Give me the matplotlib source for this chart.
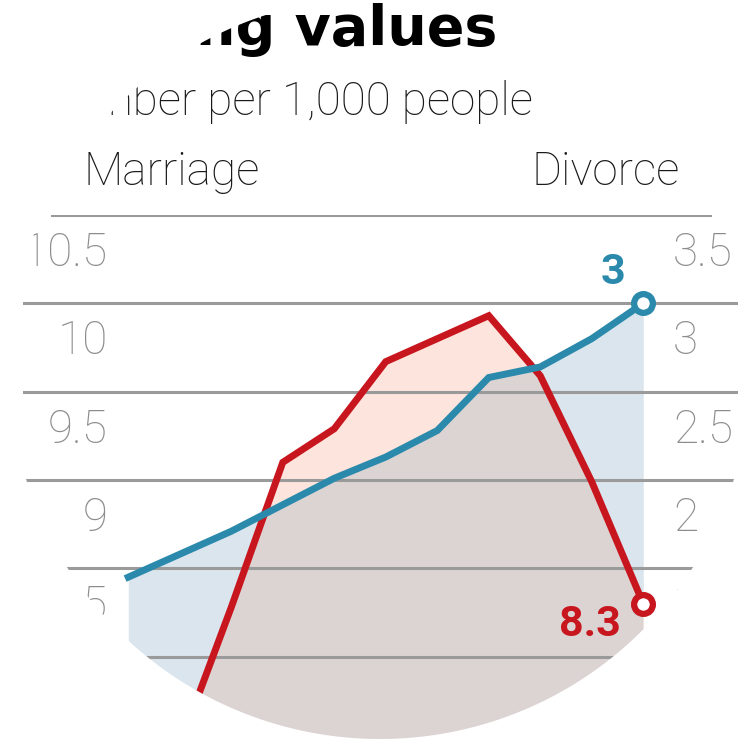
"""
Marriage vs divorce rate, per 1,000 people (circular crop)
"""

import numpy as np
import matplotlib.pyplot as plt
from matplotlib.path import Path
from matplotlib.patches import PathPatch

# data
years = [2006, 2007, 2008, 2009, 2010, 2011, 2012, 2013, 2014, 2015, 2016]
marriage = [7.2, 7.5, 8.28, 9.1, 9.29, 9.67, 9.8, 9.93, 9.59, 8.99, 8.3]
divorce = [1.45, 1.58, 1.71, 1.86, 2.01, 2.13, 2.28, 2.58, 2.64, 2.8, 3.0]

marriage_ticks = [10.5, 10, 9.5, 9, 8.5, 8]
divorce_ticks = [3.5, 3, 2.5, 2, 1.5, 1]
marriage_labels = ["10.5", "10", "9.5", "9", "8.5", "8"]
divorce_labels = ["3.5", "3", "2.5", "2", "1.5", "1"]

RED = "#c8161e"
BLUE = "#2b8aab"
BLUE_FILL = "#dae5ee"
RED_FILL = "#fde4dc"
OVERLAP = "#dcd3d3"
GRID = "#9a9a9a"
TICK = "#8c8c8c"
DARK = "#1a1a1a"

THIN = ["Roboto", "DejaVu Sans"]


def main():
    fig = plt.figure(figsize=(7.56, 7.44), dpi=100)
    ax = fig.add_axes([23 / 756, -1 / 744, 715 / 756, 530 / 744])
    ax2 = ax.twinx()
    ax.set_xlim(years[0] - 2.045, years[0] + 11.84)
    ax.set_ylim(7.5, 10.5)
    ax2.set_ylim(0.5, 3.5)
    ax.set_axis_off()
    ax2.set_axis_off()

    # fills (divorce drawn on ax with ax2 scale so lines stay on top)
    ax.fill_between(years, 0.0, divorce, transform=ax2.transData,
                    color=BLUE_FILL, lw=0, zorder=1)
    red_fill = ax.fill_between(years, 7.0, marriage, color=RED_FILL,
                               lw=0, zorder=1.1)
    ov = ax.fill_between(years, 0.0, divorce, transform=ax2.transData,
                         color=OVERLAP, lw=0, zorder=1.2)
    ov.set_clip_path(red_fill.get_paths()[0], ax.transData)

    # grid
    for v in marriage_ticks[1:]:
        ax.axhline(v, color=GRID, lw=2.2, zorder=2)
    ax.axhline(10.5, xmin=29 / 715, xmax=687 / 715, color=GRID, lw=2.2, zorder=2)

    # tick labels sit under their grid line
    for v, s in zip(marriage_ticks, marriage_labels):
        ax.text(0.119, v - 0.215, s, transform=ax.get_yaxis_transform(),
                ha="right", va="center", fontsize=33, color=TICK,
                family=THIN, fontweight="light")
    for v, s in zip(divorce_ticks, divorce_labels):
        ax.text(0.909, v - 0.215, s, transform=ax2.get_yaxis_transform(),
                ha="left", va="center", fontsize=33, color=TICK,
                family=THIN, fontweight="light")

    # lines
    ax.plot(years, marriage, color=RED, lw=5, zorder=3,
            solid_joinstyle="miter")
    ax.plot(years, divorce, color=BLUE, lw=5, zorder=3,
            transform=ax2.transData, solid_joinstyle="miter")
    ax.plot(years[-1], marriage[-1], "o", ms=13.5, mew=4.5, mfc="white",
            mec=RED, zorder=4)
    ax.plot(years[-1], divorce[-1], "o", ms=13.5, mew=4.5, mfc="white",
            mec=BLUE, zorder=4, transform=ax2.transData)

    ax.annotate("3", (years[-1], divorce[-1]), xycoords=ax2.transData,
                xytext=(-22, 22), textcoords="offset points", ha="center",
                va="center", fontsize=31, fontweight="bold", color=BLUE,
                family=["Roboto", "DejaVu Sans"], zorder=5)
    ax.annotate("8.3", (years[-1], marriage[-1]), xytext=(-16, -15),
                textcoords="offset points", ha="right", va="center",
                fontsize=31, fontweight="bold", color=RED,
                family=["Roboto", "DejaVu Sans"], zorder=5)

    # header texts
    fig.text(497 / 756, 699 / 744, "Changing values", ha="right",
             va="baseline", fontsize=40, fontweight="bold", color="black",
             family=["DejaVu Sans"])
    fig.text(533 / 756, 642 / 744, "Number per 1,000 people", ha="right",
             va="center", fontsize=33, color=DARK, family=THIN,
             fontweight="light")
    fig.text(83 / 756, 572 / 744, "Marriage", ha="left", va="center",
             fontsize=33, color=DARK, family=THIN, fontweight="light")
    fig.text(680 / 756, 572 / 744, "Divorce", ha="right", va="center",
             fontsize=33, color=DARK, family=THIN, fontweight="light")

    # circular crop: white mask with a round hole (inches)
    cx, cy, r = 3.80, 3.76, 3.71
    t = np.linspace(0, 2 * np.pi, 500)[::-1]
    ring = np.column_stack([cx + r * np.cos(t), cy + r * np.sin(t)])
    box = np.array([[-1, -1], [9, -1], [9, 9], [-1, 9], [-1, -1]])
    verts = np.vstack([box, ring, ring[:1]])
    codes = ([Path.MOVETO] + [Path.LINETO] * 3 + [Path.CLOSEPOLY]
             + [Path.MOVETO] + [Path.LINETO] * (len(ring) - 1) + [Path.CLOSEPOLY])
    mask = PathPatch(Path(verts, codes), transform=fig.dpi_scale_trans,
                     facecolor="white", edgecolor="none", zorder=10)
    fig.add_artist(mask)

    fig.savefig("out.png", dpi=100)


if __name__ == "__main__":
    main()
